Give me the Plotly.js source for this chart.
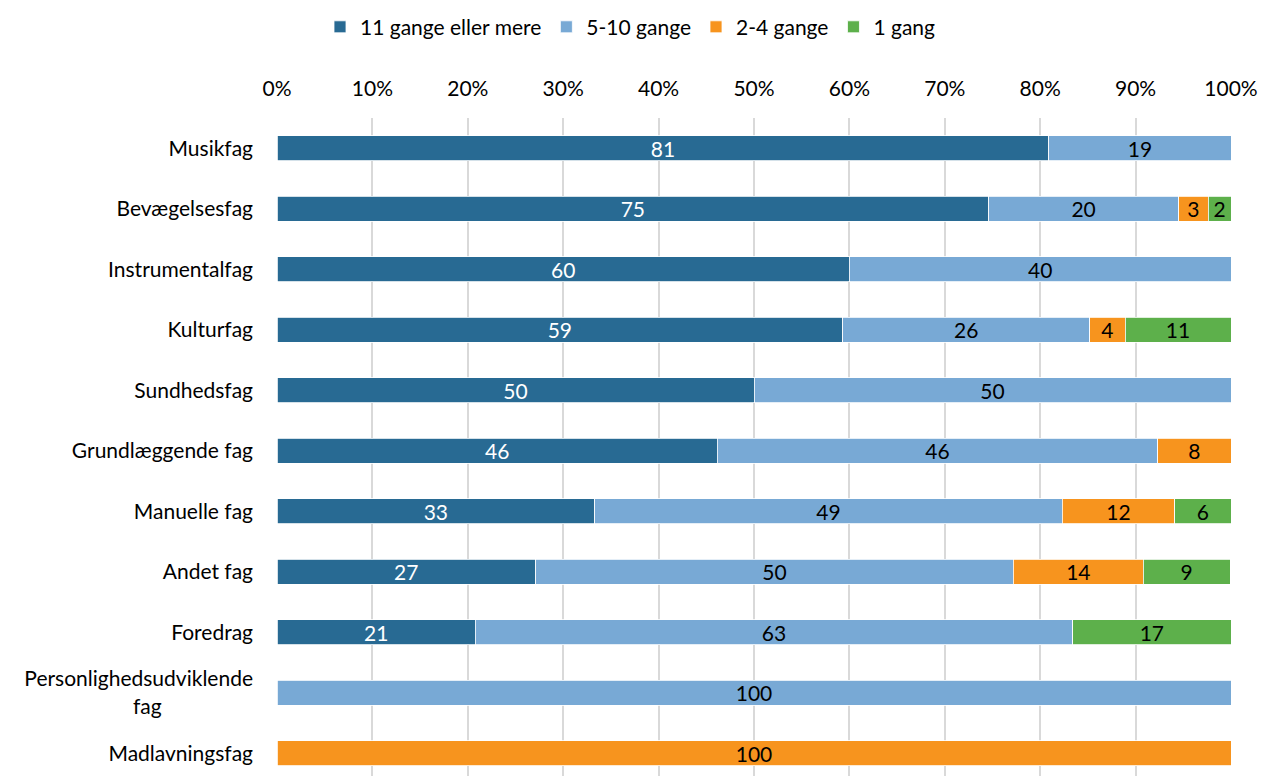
<!DOCTYPE html>
<html>
<head>
<meta charset="utf-8">
<script src="https://cdn.plot.ly/plotly-3.0.1.min.js"></script>
<style>html,body{margin:0;padding:0;background:#fff;}#chart{width:1261px;height:776px;}</style>
</head>
<body>
<div id="chart"></div>
<script>
const categories = ["Musikfag","Bevægelsesfag","Instrumentalfag","Kulturfag","Sundhedsfag","Grundlæggende fag","Manuelle fag","Andet fag","Foredrag","Personlighedsudviklende<br>fag" + "\u00a0".repeat(17),"Madlavningsfag"];
const seriesNames = ["11 gange eller mere","5-10 gange","2-4 gange","1 gang"];
const s11plus = [80.9, 74.6, 60.0, 59.3, 50.0, 46.15, 33.3, 27.1, 20.8, 0, 0];
const s5to10  = [19.1, 19.9, 40.0, 25.9, 50.0, 46.15, 49.0, 50.1, 62.6, 100, 0];
const s2to4   = [0, 3.1, 0, 3.7, 0, 7.7, 11.8, 13.6, 0, 0, 100];
const s1      = [0, 2.4, 0, 11.1, 0, 0, 5.9, 9.1, 16.6, 0, 0];
const colors = ["#286a93","#78a9d5","#f7941e","#5db04b"];
const textColors = ["#ffffff","#000000","#000000","#000000"];
const tickVals = [0,10,20,30,40,50,60,70,80,90,100];
const tickText = tickVals.map(v => v + "%");

const FONT = "Lato, 'Open Sans', sans-serif";
const FS = 21;
const data = [s11plus, s5to10, s2to4, s1].map((vals, i) => ({
  type: "bar",
  orientation: "h",
  name: seriesNames[i],
  y: categories,
  x: vals,
  text: vals.map(v => v > 0 ? String(Math.round(v)) : ""),
  texttemplate: "%{text}",
  textposition: "inside",
  insidetextanchor: "middle",
  textangle: 0,
  constraintext: "none",
  textfont: {family: FONT, size: FS, color: textColors[i]},
  marker: {color: colors[i], line: {color: "#ffffff", width: 0.8}},
  hoverinfo: "skip"
}));

const layout = {
  width: 1261, height: 776,
  barmode: "stack",
  bargap: 0.59,
  paper_bgcolor: "#fff", plot_bgcolor: "#fff",
  font: {family: FONT, size: FS, color: "#000"},
  margin: {l: 277, r: 30, t: 118, b: 0, pad: 0, autoexpand: false},
  showlegend: true,
  legend: {orientation: "h", x: 0.5, xref: "container", xanchor: "center", y: 0.965, yref: "container", yanchor: "middle",
           font: {family: FONT, size: FS, color: "#000"}, traceorder: "normal", itemwidth: 30},
  xaxis: {
    side: "top", range: [0, 100], tickvals: tickVals, ticktext: tickText,
    showgrid: true, gridcolor: "#d9d9d9", gridwidth: 2, zeroline: false,
    showline: false, ticks: "", ticklabelstandoff: 17, fixedrange: true, automargin: false
  },
  yaxis: {
    type: "category", range: [10.376, -0.5], showgrid: false, zeroline: false,
    showline: false, ticks: "", ticklabelstandoff: 23, fixedrange: true, automargin: false
  }
};
Plotly.newPlot("chart", data, layout, {displayModeBar: false, staticPlot: true});
</script>
</body>
</html>
